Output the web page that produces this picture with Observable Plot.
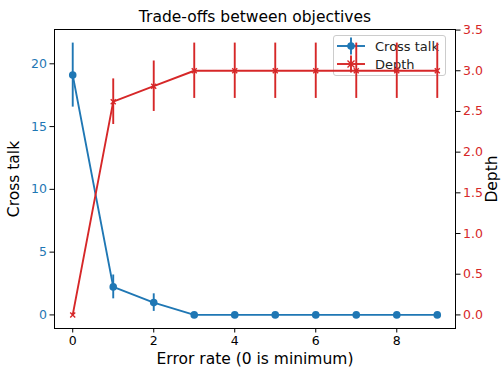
<!DOCTYPE html>
<html>
<head>
<meta charset="utf-8">
<script src="https://cdn.jsdelivr.net/npm/d3@7"></script>
<script src="https://cdn.jsdelivr.net/npm/@observablehq/plot@0.6"></script>
<style>
  html, body { margin: 0; padding: 0; background: #fff; }
  #wrap { position: relative; width: 501px; height: 369px; font-family: "DejaVu Sans", sans-serif; }
  #wrap > svg, #wrap > .layer { position: absolute; left: 0; top: 0; }
  #legend { position: absolute; left: 333px; top: 35px; width: 113px; height: 41px;
    border: 1px solid #cccccc; border-radius: 3px; background: rgba(255,255,255,0.8); box-sizing: border-box; }
</style>
</head>
<body>
<div id="wrap"></div>
<script>
// ---- data ----
const errorRate = [0, 1, 2, 3, 4, 5, 6, 7, 8, 9];
const crossTalk = [19.1, 2.23, 0.98, 0, 0, 0, 0, 0, 0, 0];
const crossTalkErr = [2.55, 0.95, 0.7, 0, 0, 0, 0, 0, 0, 0];
const depth = [0, 2.62, 2.81, 3, 3, 3, 3, 3, 3, 3];
const depthErr = [0, 0.28, 0.31, 0.34, 0.34, 0.34, 0.34, 0.34, 0.34, 0.34];
const xTicks = [0, 2, 4, 6, 8];
const crossTicks = [0, 5, 10, 15, 20];
const depthTicks = [0, 0.5, 1.0, 1.5, 2.0, 2.5, 3.0, 3.5];
const title = "Trade-offs between objectives";
const xLabel = "Error rate (0 is minimum)";
const yLabelLeft = "Cross talk";
const yLabelRight = "Depth";
const seriesNames = ["Cross talk", "Depth"];

const BLUE = "#1f77b4", RED = "#d62728";
const ctData = errorRate.map((x, i) => ({x, y: crossTalk[i], e: crossTalkErr[i]}));
const dData = errorRate.map((x, i) => ({x, y: depth[i], e: depthErr[i]}));

const common = {
  width: 501, height: 369,
  marginTop: 29, marginBottom: 41, marginLeft: 54, marginRight: 46,
  style: {fontFamily: "DejaVu Sans, sans-serif", fontSize: "12.5px", background: "transparent", overflow: "visible"}
};

const p1 = Plot.plot({
  ...common,
  x: {domain: [-0.45, 9.45]},
  y: {domain: [-1.0825, 22.7325]},
  marks: [
    Plot.axisX({ticks: xTicks, tickSize: 4.5, tickPadding: 3, label: null, stroke: "black", fill: "black", fontSize: 12.5}),
    Plot.axisY({ticks: crossTicks, tickSize: 4.5, tickPadding: 3, label: null, stroke: "black", fill: BLUE, fontSize: 12.5}),
    Plot.ruleX(ctData.filter(d => d.e > 0), {x: "x", y1: d => d.y - d.e, y2: d => d.y + d.e, stroke: BLUE, strokeWidth: 1.9}),
    Plot.line(ctData, {x: "x", y: "y", stroke: BLUE, strokeWidth: 1.9}),
    Plot.dot(ctData, {x: "x", y: "y", fill: BLUE, r: 3.8}),
    Plot.text([title], {frameAnchor: "top", lineAnchor: "middle", dy: -12, fontSize: 15.5, fill: "black"}),
    Plot.text([xLabel], {frameAnchor: "bottom", lineAnchor: "middle", dy: 31, fontSize: 15.5, fill: "black"}),
    Plot.text([yLabelLeft], {frameAnchor: "left", dx: -40, rotate: -90, textAnchor: "middle", lineAnchor: "middle", fontSize: 15.5, fill: "black"})
  ]
});

const p2 = Plot.plot({
  ...common,
  x: {domain: [-0.45, 9.45], axis: null},
  y: {domain: [-0.167, 3.507]},
  marks: [
    Plot.axisY({anchor: "right", ticks: depthTicks, tickFormat: d3.format(".1f"), tickSize: 4.5, tickPadding: 3, label: null, stroke: "black", fill: RED, fontSize: 12.5}),
    Plot.ruleX(dData.filter(d => d.e > 0), {x: "x", y1: d => d.y - d.e, y2: d => d.y + d.e, stroke: RED, strokeWidth: 1.9}),
    Plot.line(dData, {x: "x", y: "y", stroke: RED, strokeWidth: 1.9}),
    Plot.dot(dData, {x: "x", y: "y", symbol: "times", stroke: RED, strokeWidth: 1.4, r: 2.4}),
    Plot.frame({stroke: "black", strokeWidth: 1}),
    Plot.text([yLabelRight], {frameAnchor: "right", dx: 37, rotate: -90, textAnchor: "middle", lineAnchor: "middle", fontSize: 15.5, fill: "black"})
  ]
});

const wrap = document.getElementById("wrap");
wrap.appendChild(p1);

// legend (drawn on first axes, beneath second axes)
const legend = document.createElement("div");
legend.id = "legend";
wrap.appendChild(legend);
const lsvg = d3.select(legend).append("svg").attr("width", 113).attr("height", 41)
  .style("position", "absolute").style("left", "-1px").style("top", "-1px");
const rows = [
  {name: seriesNames[0], color: BLUE, cy: 11, marker: "circle"},
  {name: seriesNames[1], color: RED, cy: 29, marker: "x"}
];
for (const r of rows) {
  const g = lsvg.append("g");
  g.append("line").attr("x1", 4).attr("x2", 32).attr("y1", r.cy).attr("y2", r.cy).attr("stroke", r.color).attr("stroke-width", 1.9);
  g.append("line").attr("x1", 18).attr("x2", 18).attr("y1", r.cy - 8.5).attr("y2", r.cy + 8.5).attr("stroke", r.color).attr("stroke-width", 1.9);
  if (r.marker === "circle") {
    g.append("circle").attr("cx", 18).attr("cy", r.cy).attr("r", 3.8).attr("fill", r.color);
  } else {
    g.append("path").attr("d", `M${18-3.5},${r.cy-3.5}L${18+3.5},${r.cy+3.5}M${18-3.5},${r.cy+3.5}L${18+3.5},${r.cy-3.5}`)
      .attr("stroke", r.color).attr("stroke-width", 1.4).attr("fill", "none");
  }
  g.append("text").attr("x", 42).attr("y", r.cy).attr("dy", "0.35em")
    .attr("font-family", "DejaVu Sans, sans-serif").attr("font-size", 13).attr("fill", "#222")
    .text(r.name);
}

wrap.appendChild(p2);
</script>
</body>
</html>
